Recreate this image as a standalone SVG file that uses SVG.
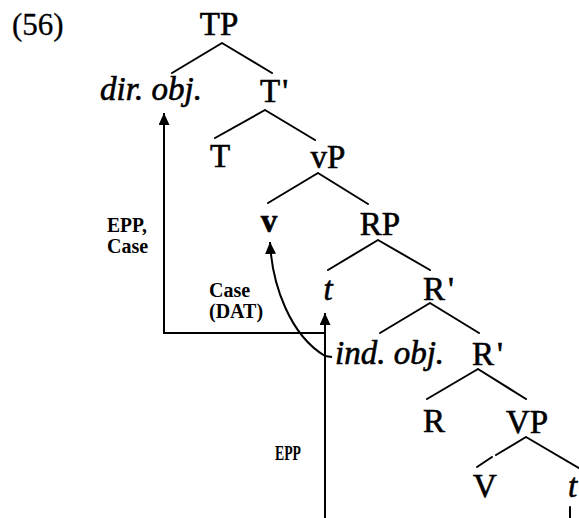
<svg xmlns="http://www.w3.org/2000/svg" width="579" height="518" viewBox="0 0 579 518">
<defs>
<style>
.n{font-family:"Liberation Serif","Times New Roman",serif;font-size:33px;fill:#000;stroke:#000;stroke-width:0.6}
.i{font-style:italic}
.m{text-anchor:middle}
.lb{font-family:"Liberation Serif","Times New Roman",serif;font-size:20px;font-weight:bold;fill:#000}
.br{stroke:#000;stroke-width:2;fill:none;stroke-linecap:round}
.ar{stroke:#000;stroke-width:2;fill:none}
</style>
<marker id="ah" markerUnits="userSpaceOnUse" markerWidth="13" markerHeight="11" refX="12" refY="5.5" orient="auto" viewBox="0 0 13 11">
<path d="M0,0 L12,5.5 L0,11 z" fill="#000"/>
</marker>
</defs>
<rect width="579" height="518" fill="#fff"/>
<text x="12" y="35" class="n" style="font-size:31px;stroke-width:0.3">(56)</text>
<g id="connectors">
<path class="br" d="M222,43 L172,73 M222,43 L272,73"/>
<path class="br" d="M265,110 L215,138 M265,110 L315,140"/>
<path class="br" d="M318,173 L268,203 M318,173 L368,204"/>
<path class="br" d="M378,240 L328,270 M378,240 L430,270"/>
<path class="br" d="M430,303 L380,333 M430,303 L479,333"/>
<path class="br" d="M478,369 L427,399 M478,369 L526,399"/>
<path class="br" d="M526,437 L496,455 M492,457 L477,467 M526,437 L584,471"/>
<path class="br" d="M570,507 L570,518"/>
<path class="ar" d="M164,333 H325"/>
<path class="ar" d="M164,334 V113" marker-end="url(#ah)"/>
<path class="ar" d="M325,518 V313" marker-end="url(#ah)"/>
<path class="ar" d="M332,357 L325,356 C290,335 272,285 270,242" marker-end="url(#ah)"/>
</g>
<g id="TP"><text x="219" y="35" class="n m">TP</text></g>
<g id="dirobj"><text x="151" y="100" class="n i m">dir. obj.</text></g>
<g id="Tbar"><text x="260" y="102" class="n">T<tspan dx="2">'</tspan></text></g>
<g id="T"><text x="220" y="167" class="n m">T</text></g>
<g id="vP"><text x="328" y="168" class="n m">vP</text></g>
<g id="v"><text x="269" y="232" class="n m" style="font-weight:bold">v</text></g>
<g id="RP"><text x="380" y="235" class="n m">RP</text></g>
<g id="t1"><text x="328" y="300" class="n i m">t</text></g>
<g id="Rbar1"><text x="423" y="300" class="n">R<tspan dx="3">'</tspan></text></g>
<g id="indobj"><text x="335" y="364" class="n i">ind. obj.</text></g>
<g id="Rbar2"><text x="472" y="365" class="n">R<tspan dx="3">'</tspan></text></g>
<g id="R"><text x="434" y="432" class="n m">R</text></g>
<g id="VP"><text x="527" y="433" class="n m">VP</text></g>
<g id="V"><text x="485" y="497" class="n m">V</text></g>
<g id="t2"><text x="568" y="497" class="n i">t</text></g>
<g id="labels">
<text x="107" y="232" class="lb" textLength="40" lengthAdjust="spacingAndGlyphs">EPP,</text>
<text x="107" y="253" class="lb">Case</text>
<text x="209" y="297" class="lb">Case</text>
<text x="209" y="318" class="lb">(DAT)</text>
<text x="275" y="460" class="lb" textLength="26" lengthAdjust="spacingAndGlyphs">EPP</text>
</g>
</svg>
